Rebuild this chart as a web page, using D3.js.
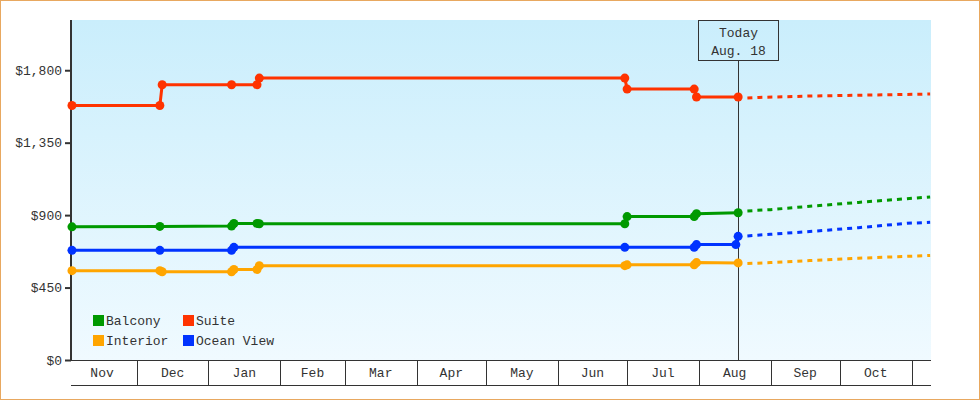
<!DOCTYPE html>
<html>
<head>
<meta charset="utf-8">
<script src="https://cdn.jsdelivr.net/npm/d3@7"></script>
<style>
  body { margin: 0; background: #fff; }
  svg { display: block; font-family: "Liberation Mono", "DejaVu Sans Mono", monospace; }
</style>
</head>
<body>
<div class="chart"></div>
<script>
// price history, one array per cabin type
let seriesNames = ["Balcony", "Suite", "Interior", "Ocean View"];
let seriesColors = ["#009900", "#ff3300", "#ffa500", "#0033ff"];

let balcony = [["2012-11-03", 827], ["2012-12-11", 830], ["2013-01-11", 832], ["2013-01-12", 848],
    ["2013-01-22", 848], ["2013-01-23", 846], ["2013-06-30", 846], ["2013-07-01", 891],
    ["2013-07-30", 891], ["2013-07-31", 909], ["2013-08-18", 915]];
let suite = [["2012-11-03", 1581], ["2012-12-11", 1581], ["2012-12-12", 1710], ["2013-01-11", 1710],
    ["2013-01-22", 1710], ["2013-01-23", 1751], ["2013-06-30", 1751], ["2013-07-01", 1683],
    ["2013-07-30", 1683], ["2013-07-31", 1634], ["2013-08-18", 1634]];
let interior = [["2012-11-03", 555], ["2012-12-11", 555], ["2012-12-12", 548], ["2013-01-11", 548],
    ["2013-01-12", 562], ["2013-01-22", 562], ["2013-01-23", 586], ["2013-06-30", 586],
    ["2013-07-01", 591], ["2013-07-30", 591], ["2013-07-31", 605], ["2013-08-18", 603]];
let oceanView = [["2012-11-03", 681], ["2012-12-11", 681], ["2013-01-11", 681], ["2013-01-12", 700],
    ["2013-06-30", 700], ["2013-07-30", 700], ["2013-07-31", 717], ["2013-08-17", 717],
    ["2013-08-18", 768]];

// forecast after today
let balconyForecast = [["2013-08-22", 926], ["2013-09-01", 934], ["2013-09-18", 955],
    ["2013-10-09", 979], ["2013-10-30", 1002], ["2013-11-09", 1013]];
let suiteForecast = [["2013-08-22", 1627], ["2013-08-27", 1631], ["2013-09-19", 1640], ["2013-11-09", 1652]];
let interiorForecast = [["2013-08-22", 599], ["2013-09-01", 605], ["2013-09-18", 618],
    ["2013-10-09", 632], ["2013-10-30", 644], ["2013-11-09", 649]];
let oceanViewForecast = [["2013-08-22", 771], ["2013-09-01", 781], ["2013-09-18", 798],
    ["2013-10-09", 822], ["2013-10-30", 849], ["2013-11-09", 855]];

let yTicks = [0, 450, 900, 1350, 1800];
let today = "2013-08-18";
let todayLabel = ["Today", "Aug. 18"];
let dateRange = ["2012-11-02T14:00", "2013-11-09T09:00"];
let priceMax = 2112;

let width = 980, height = 400;
let margin = { top: 20, bottom: 40, left: 71, right: 49 };

let parse = s => new Date(s.length > 10 ? s : s + "T00:00");

let svg = d3.select(".chart").append("svg")
    .attr("width", width)
    .attr("height", height);

let defs = svg.append("defs");
let grad = defs.append("linearGradient").attr("id", "bg")
    .attr("x1", 0).attr("y1", 0).attr("x2", 0).attr("y2", 1);
grad.append("stop").attr("offset", "0%").attr("stop-color", "#caeefc");
grad.append("stop").attr("offset", "100%").attr("stop-color", "#f0faff");

svg.append("rect")
    .attr("x", 0.5).attr("y", 0.5)
    .attr("width", width - 1).attr("height", height - 1)
    .attr("fill", "#fff")
    .attr("stroke", "#e8a860");

let x = d3.scaleTime()
    .domain(dateRange.map(parse))
    .range([margin.left, width - margin.right]);
let y = d3.scaleLinear()
    .domain([0, priceMax])
    .range([height - margin.bottom, margin.top]);

let x0 = margin.left, x1 = width - margin.right;
let yBase = height - margin.bottom;

svg.append("rect")
    .attr("x", x0).attr("y", margin.top)
    .attr("width", x1 - x0).attr("height", yBase - margin.top)
    .attr("fill", "url(#bg)");

// y axis
let yAxis = svg.append("g")
    .attr("transform", `translate(${x0},0)`)
    .call(d3.axisLeft(y).tickValues(yTicks).tickFormat(d3.format("$,.0f")).tickSize(6).tickSizeOuter(0));
yAxis.select(".domain").remove();
yAxis.selectAll(".tick line").attr("stroke", "#333").attr("stroke-width", 2);
yAxis.selectAll(".tick text").attr("fill", "#333").style("font-size", "13px")
    .style("font-family", "Liberation Mono, DejaVu Sans Mono, monospace").attr("x", -9);
svg.append("line")
    .attr("x1", x0).attr("x2", x0)
    .attr("y1", margin.top).attr("y2", yBase + 1)
    .attr("stroke", "#333").attr("stroke-width", 2);

// x axis: month boxes
let xAxis = svg.append("g");
xAxis.append("line").attr("x1", x0).attr("x2", x1).attr("y1", yBase + 0.5).attr("y2", yBase + 0.5)
    .attr("stroke", "#333");
xAxis.append("line").attr("x1", x0).attr("x2", x1).attr("y1", yBase + 25.5).attr("y2", yBase + 25.5)
    .attr("stroke", "#333");
let months = d3.timeMonth.range(d3.timeMonth.floor(x.domain()[0]), x.domain()[1]);
let mid = d => new Date((+d + +d3.timeMonth.offset(d, 1)) / 2);
xAxis.selectAll(".div").data(months.filter(d => x(d) > x0))
    .join("line")
    .attr("x1", d => Math.round(x(d)) + 0.5).attr("x2", d => Math.round(x(d)) + 0.5)
    .attr("y1", yBase).attr("y2", yBase + 25)
    .attr("stroke", "#333");
xAxis.selectAll(".lbl").data(months.filter(d => x(mid(d)) < x1))
    .join("text")
    .attr("x", d => x(mid(d)))
    .attr("y", yBase + 17)
    .attr("text-anchor", "middle")
    .attr("fill", "#333")
    .style("font-size", "13px")
    .text(d3.timeFormat("%b"));

// today marker
let tx = Math.round(x(parse(today))) + 0.5;
svg.append("line")
    .attr("x1", tx).attr("x2", tx)
    .attr("y1", 60).attr("y2", yBase)
    .attr("stroke", "#333");
svg.append("rect")
    .attr("x", tx - 40).attr("y", 20.5)
    .attr("width", 80).attr("height", 40)
    .attr("fill", "none").attr("stroke", "#333");
svg.selectAll(".today").data(todayLabel)
    .join("text")
    .attr("x", tx).attr("y", (d, i) => 37 + i * 18)
    .attr("text-anchor", "middle")
    .attr("fill", "#333")
    .style("font-size", "13px")
    .text(d => d);

let line = d3.line().x(d => x(parse(d[0]))).y(d => y(d[1]));

let history = [balcony, suite, interior, oceanView];
let forecast = [balconyForecast, suiteForecast, interiorForecast, oceanViewForecast];

// draw in order so red sits behind others like the picture
[1, 0, 3, 2].forEach(i => {
    let g = svg.append("g");
    g.append("path")
        .attr("d", line(forecast[i]))
        .attr("fill", "none")
        .attr("stroke", seriesColors[i])
        .attr("stroke-width", 3)
        .attr("stroke-dasharray", "5,5");
    g.append("path")
        .attr("d", line(history[i]))
        .attr("fill", "none")
        .attr("stroke", seriesColors[i])
        .attr("stroke-width", 3);
    g.selectAll("circle").data(history[i])
        .join("circle")
        .attr("cx", d => x(parse(d[0])))
        .attr("cy", d => y(d[1]))
        .attr("r", 4.5)
        .attr("fill", seriesColors[i]);
});

// legend
let legend = svg.append("g");
seriesNames.forEach((name, i) => {
    let lx = 93 + (i % 2) * 90;
    let ly = 315 + Math.floor(i / 2) * 20;
    legend.append("rect")
        .attr("x", lx).attr("y", ly)
        .attr("width", 11).attr("height", 11)
        .attr("fill", seriesColors[i]);
    legend.append("text")
        .attr("x", lx + 13).attr("y", ly + 10)
        .attr("fill", "#333")
        .style("font-size", "13px")
        .text(name);
});
</script>
</body>
</html>
